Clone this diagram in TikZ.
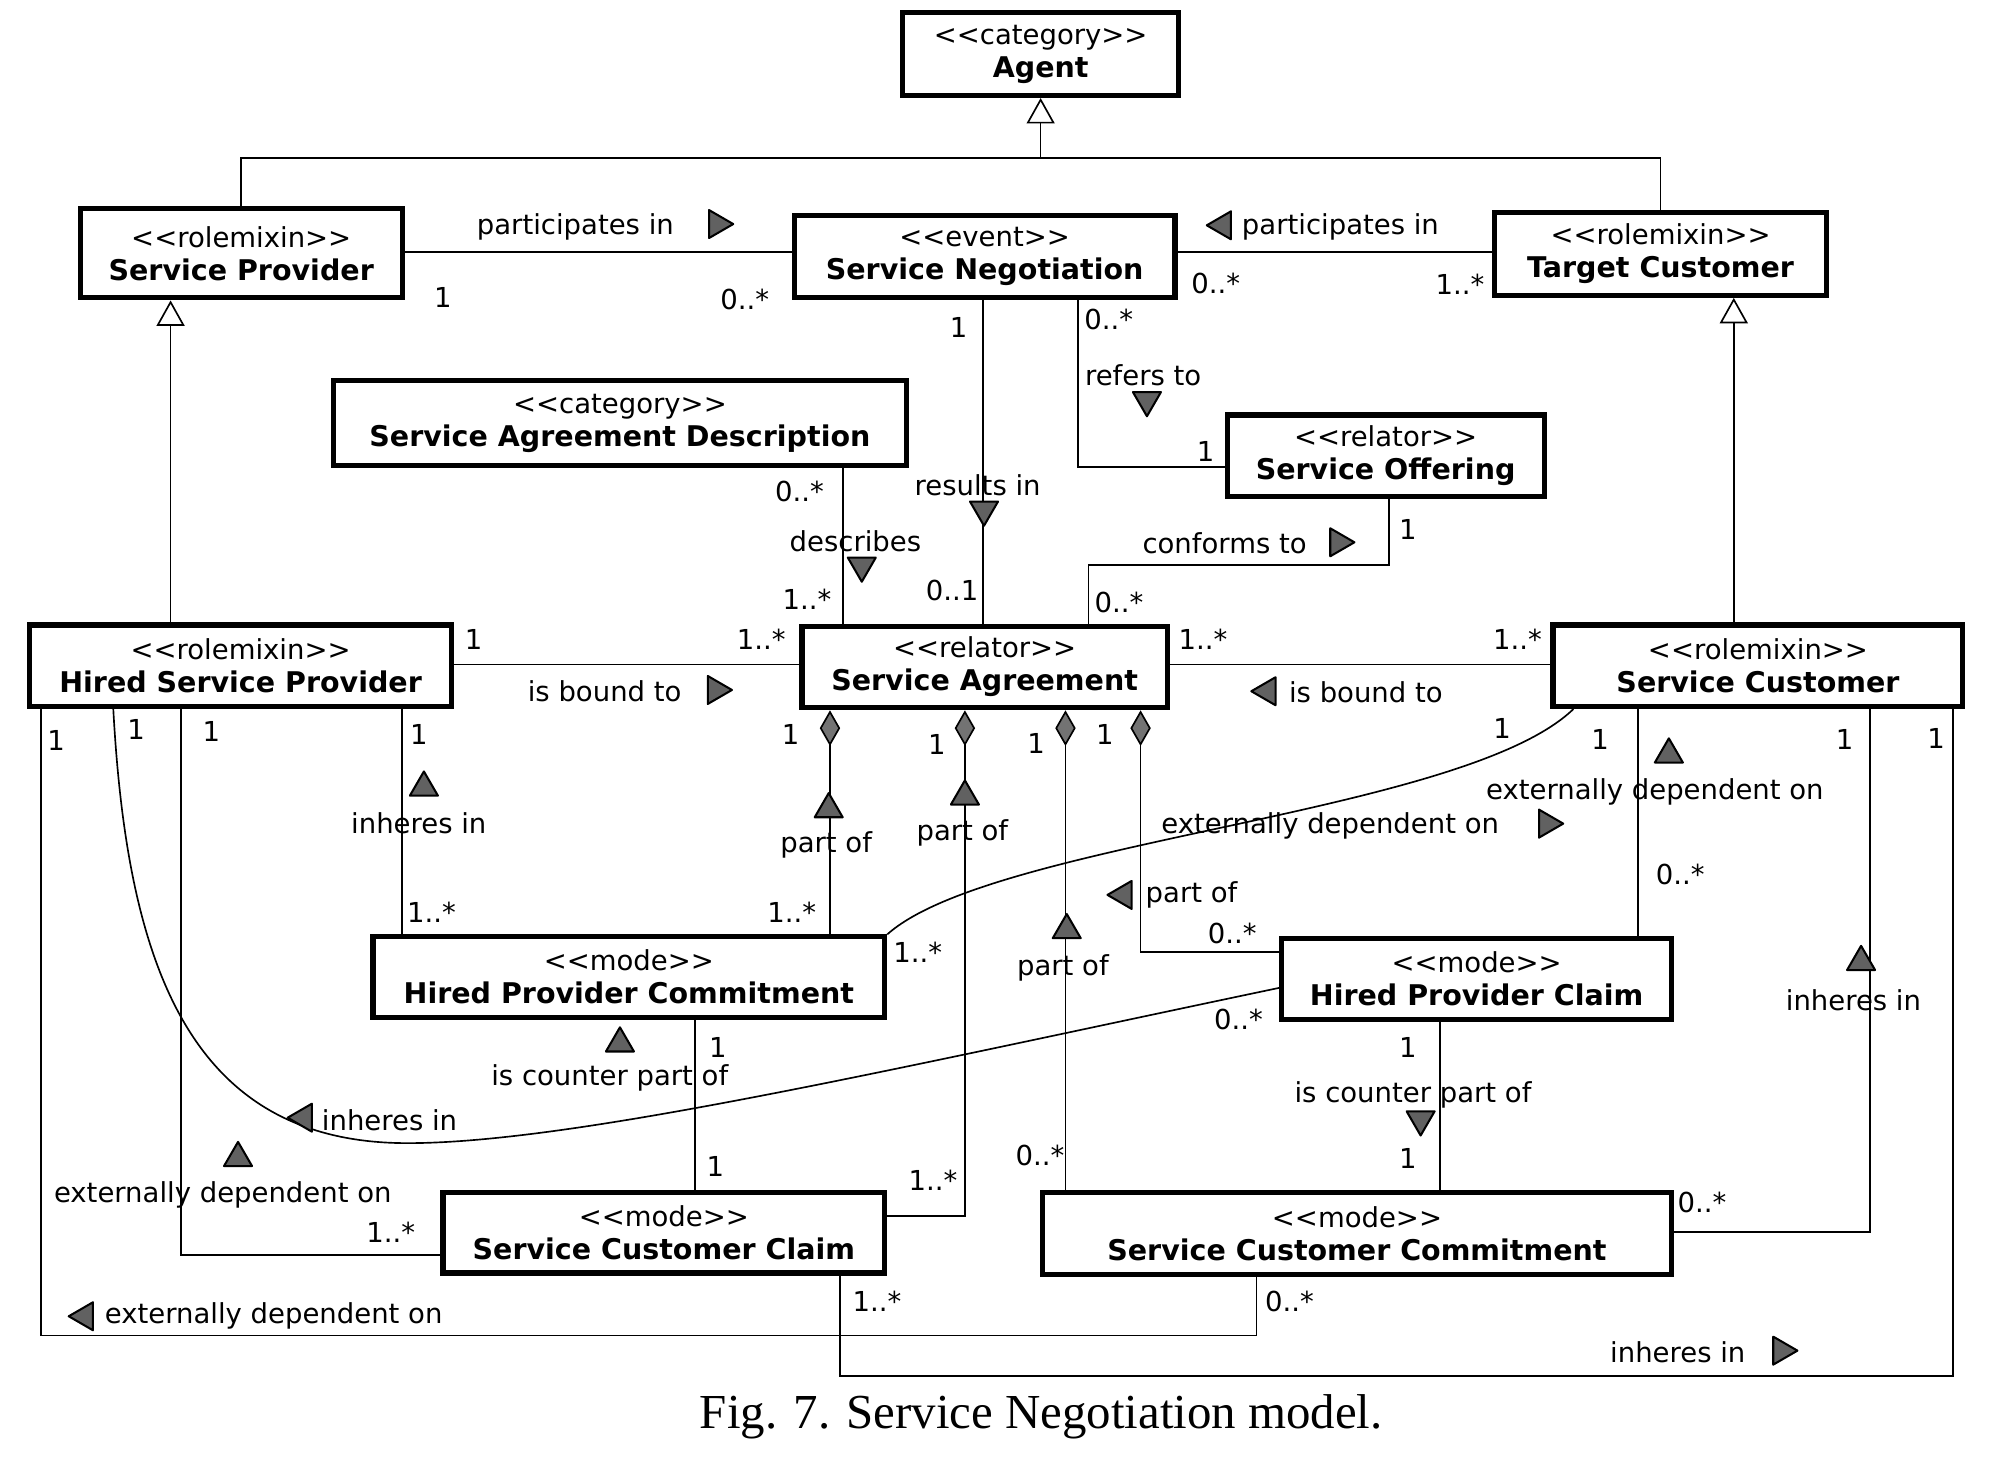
\documentclass[tikz,border=0pt]{standalone}
\usepackage{fontspec}
\setmainfont{DejaVu Sans}
\newfontfamily\capfont{Liberation Serif}
\usetikzlibrary{arrows.meta}
\tikzset{
  cls/.style={draw, line width=2pt, fill=white, align=center, inner sep=0pt,
    font=\fontsize{10.8pt}{13pt}\selectfont},
  conn/.style={line width=0.65pt},
  lbl/.style={inner sep=0pt, font=\fontsize{10.8pt}{13pt}\selectfont},
  mult/.style={inner sep=0pt, font=\fontsize{10.8pt}{13pt}\selectfont},
  dirtri/.style={draw=black, line width=0.8pt, fill=black!62, line join=round},
  gentip/.style={-{Triangle[open, length=10pt, width=11pt, fill=white]}},
  diam/.style={{Diamond[length=14pt, width=8pt, fill=black!55]}-},
}
\newcommand\umlc[2]{<{}<#1>{}>\\{\fontsize{11.2pt}{13pt}\selectfont\bfseries #2}}
\newcommand\dirtri[2]{\draw[dirtri, shift={(#1)}, rotate=#2] (10,0) -- (-9,11) -- (-9,-11) -- cycle;}
\begin{document}
\begin{tikzpicture}[x=0.5pt,y=-0.5pt]
\useasboundingbox (0,0) rectangle (1568,1153);
\fill[white] (0,0) rectangle (1568,1153);

% classes
\node[cls, minimum width=108.5pt, minimum height=32.5pt] (agent) at (817.5,42.5) {\umlc{category}{Agent}};
\node[cls, minimum width=126.5pt, minimum height=35pt] (sp) at (189.5,199) {\umlc{rolemixin}{Service Provider}};
\node[cls, minimum width=149.5pt, minimum height=32.5pt] (sn) at (773.5,201.5) {\umlc{event}{Service Negotiation}};
\node[cls, minimum width=130.5pt, minimum height=32.5pt] (tc) at (1304.5,199.5) {\umlc{rolemixin}{Target Customer}};
\node[cls, minimum width=225pt, minimum height=33.5pt] (sad) at (487,332.5) {\umlc{category}{Service Agreement Description}};
\node[cls, minimum width=124.5pt, minimum height=32pt] (so) at (1088.5,358) {\umlc{relator}{Service Offering}};
\node[cls, minimum width=166pt, minimum height=32pt] (hsp) at (189,523) {\umlc{rolemixin}{Hired Service Provider}};
\node[cls, minimum width=143.5pt, minimum height=32pt] (sa) at (773.5,524) {\umlc{relator}{Service Agreement}};
\node[cls, minimum width=161pt, minimum height=32pt] (sc) at (1381,523) {\umlc{rolemixin}{Service Customer}};
\node[cls, minimum width=201pt, minimum height=31.5pt] (hpc) at (494,767.5) {\umlc{mode}{Hired Provider Commitment}};
\node[cls, minimum width=153pt, minimum height=32pt] (hpcl) at (1160,769) {\umlc{mode}{Hired Provider Claim}};
\node[cls, minimum width=173.5pt, minimum height=31.5pt] (scc) at (521.5,968.5) {\umlc{mode}{Service Customer Claim}};
\node[cls, minimum width=247pt, minimum height=32pt] (sccom) at (1066,969) {\umlc{mode}{Service Customer Commitment}};

% generalizations
\coordinate (gj) at (817.5,124);
\draw[conn] (sp.north) |- (gj) -| (tc.north);
\draw[conn, gentip] (gj) -- (agent.south);
\draw[conn, gentip] (hsp.north -| 134,0) -- (sp.south -| 134,0);
\draw[conn, gentip] (sc.north -| 1362,0) -- (tc.south -| 1362,0);

% associations
\draw[conn] (sp.east |- 0,198) -- (sn.west |- 0,198);
\draw[conn] (sn.east |- 0,198) -- (tc.west |- 0,198);
\draw[conn] (sn.south -| 772,0) -- (sa.north -| 772,0);
\draw[conn] (sn.south -| 847,0) |- (so.west |- 0,367);
\draw[conn] (sad.south -| 662,0) -- (sa.north -| 662,0);
\draw[conn] (sa.north -| 855,0) -- (855,444) -| (so.south -| 1091,0);
\draw[conn] (hsp.east |- 0,522) -- (sa.west |- 0,522);
\draw[conn] (sa.east |- 0,522) -- (sc.west |- 0,522);
\draw[conn, diam] (sa.south -| 652,0) -- (hpc.north -| 652,0);
\draw[conn, diam] (sa.south -| 758,0) |- (scc.east |- 0,955);
\draw[conn, diam] (sa.south -| 837,0) -- (sccom.north -| 837,0);
\draw[conn, diam] (sa.south -| 896,0) |- (hpcl.west |- 0,748);
\draw[conn] (hsp.south -| 316,0) -- (hpc.north -| 316,0);
\draw[conn] (hpc.north east) .. controls (780,660) and (1150,640) .. (sc.south -| 1236,0);
\draw[conn] (sc.south -| 1287,0) -- (hpcl.north -| 1287,0);
\draw[conn] (hsp.south -| 89,0) .. controls (100,760) and (150,898) .. (320,898)
  .. controls (450,898) and (700,840) .. (hpcl.west |- 0,776);
\draw[conn] (hsp.south -| 142,0) |- (scc.west |- 0,986);
\draw[conn] (hsp.south -| 32,0) -- (32,1049) -| (sccom.south -| 987,0);
\draw[conn] (hpc.south -| 546,0) -- (scc.north -| 546,0);
\draw[conn] (hpcl.south -| 1131,0) -- (sccom.north -| 1131,0);
\draw[conn] (sc.south -| 1469,0) |- (sccom.east |- 0,968);
\draw[conn] (scc.south -| 660,0) -- (660,1081) -| (sc.south -| 1534,0);

% association labels and reading direction
\node[lbl] (l1) at (452,178) {participates in};
\dirtri{566,176}{0}
\node[lbl] (l2) at (1053,178) {participates in};
\dirtri{958,177}{180}
\node[lbl] (l3) at (898,295) {refers to};
\dirtri{901,317}{-90}
\node[lbl] (l4) at (768,381) {results in};
\dirtri{773,403}{-90}
\node[lbl] (l5) at (672,425) {describes};
\dirtri{677,447}{-90}
\node[lbl] (l6) at (962,427) {conforms to};
\dirtri{1054,426}{0}
\node[lbl] (l7) at (475,543) {is bound to};
\dirtri{565,542}{0}
\node[lbl] (l8) at (1073,544) {is bound to};
\dirtri{993,543}{180}
\node[lbl] (l9) at (329,647) {inheres in};
\dirtri{333,616}{90}
\node[lbl] (l10) at (649,664) {part of};
\dirtri{651,633}{90}
\node[lbl] (l11) at (756,654) {part of};
\dirtri{758,623}{90}
\node[lbl] (l12) at (1045,649) {externally dependent on};
\dirtri{1218,647}{0}
\node[lbl] (l13) at (1300,622) {externally dependent on};
\dirtri{1311,590}{90}
\node[lbl] (l14) at (936,703) {part of};
\dirtri{880,703}{180}
\node[lbl] (l15) at (835,760) {part of};
\dirtri{838,728}{90}
\node[lbl] (l16) at (1456,786) {inheres in};
\dirtri{1462,753}{90}
\node[lbl] (l17) at (479,847) {is counter part of};
\dirtri{487,817}{90}
\node[lbl] (l18) at (306,880) {inheres in};
\dirtri{236,878}{180}
\node[lbl] (l19) at (1110,860) {is counter part of};
\dirtri{1116,882}{-90}
\node[lbl] (l20) at (175,939) {externally dependent on};
\dirtri{187,907}{90}
\node[lbl] (l21) at (215,1034) {externally dependent on};
\dirtri{64,1034}{180}
\node[lbl] (l22) at (1318,1062) {inheres in};
\dirtri{1402,1061}{0}

% multiplicities
\node[mult] (m1) at (348,234) {1};
\node[mult] (m2) at (585,235) {0..*};
\node[mult] (m3) at (955,223) {0..*};
\node[mult] (m4) at (1147,223) {1..*};
\node[mult] (m5) at (753,257) {1};
\node[mult] (m6) at (748,464) {0..1};
\node[mult] (m7) at (871,251) {0..*};
\node[mult] (m8) at (947,355) {1};
\node[mult] (m9) at (628,386) {0..*};
\node[mult] (m10) at (634,471) {1..*};
\node[mult] (m11) at (879,473) {0..*};
\node[mult] (m12) at (1106,416) {1};
\node[mult] (m13) at (372,502) {1};
\node[mult] (m14) at (598,502) {1..*};
\node[mult] (m15) at (945,502) {1..*};
\node[mult] (m16) at (1192,502) {1..*};
\node[mult] (m17) at (621,577) {1};
\node[mult] (m18) at (622,717) {1..*};
\node[mult] (m19) at (736,585) {1};
\node[mult] (m20) at (733,927) {1..*};
\node[mult] (m21) at (814,584) {1};
\node[mult] (m22) at (817,908) {0..*};
\node[mult] (m23) at (868,577) {1};
\node[mult] (m24) at (968,733) {0..*};
\node[mult] (m25) at (329,577) {1};
\node[mult] (m26) at (339,717) {1..*};
\node[mult] (m27) at (721,748) {1..*};
\node[mult] (m28) at (1180,572) {1};
\node[mult] (m29) at (1257,581) {1};
\node[mult] (m30) at (1320,687) {0..*};
\node[mult] (m31) at (107,573) {1};
\node[mult] (m32) at (973,801) {0..*};
\node[mult] (m33) at (166,575) {1};
\node[mult] (m34) at (307,968) {1..*};
\node[mult] (m35) at (44,582) {1};
\node[mult] (m36) at (1013,1022) {0..*};
\node[mult] (m37) at (564,823) {1};
\node[mult] (m38) at (562,916) {1};
\node[mult] (m39) at (1106,823) {1};
\node[mult] (m40) at (1106,910) {1};
\node[mult] (m41) at (1449,581) {1};
\node[mult] (m42) at (1337,945) {0..*};
\node[mult] (m43) at (689,1022) {1..*};
\node[mult] (m44) at (1521,580) {1};

% caption
\node[inner sep=0pt, font=\capfont\fontsize{19.2pt}{22pt}\selectfont] (cap) at (818,1113) {Fig. 7. Service Negotiation model.};
\end{tikzpicture}
\end{document}
